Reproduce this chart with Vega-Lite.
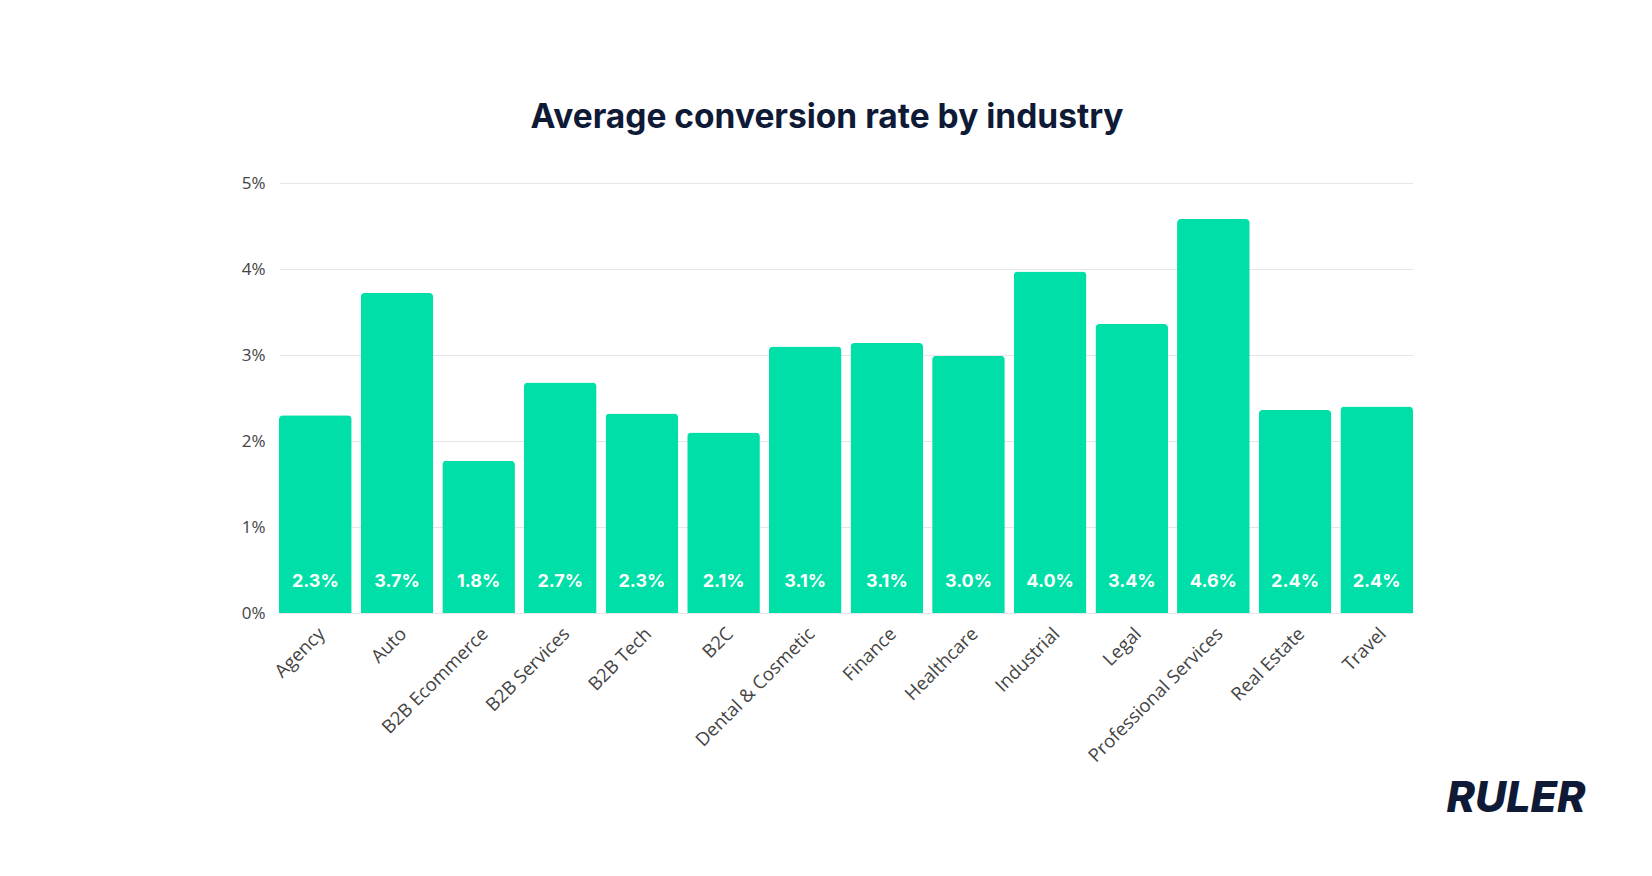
{
  "$schema": "https://vega.github.io/schema/vega-lite/v6.json",
  "width": 1134,
  "height": 430,
  "autosize": "none",
  "padding": {"left": 279, "top": 183, "right": 239, "bottom": 263},
  "background": "#ffffff",
  "title": {
    "text": "Average conversion rate by industry",
    "fontSize": 33.5,
    "font": "Inter",
    "fontWeight": 700,
    "color": "#0e1a36",
    "anchor": "middle",
    "dx": -19,
    "offset": 39
  },
  "data": {
    "values": [
      {"industry": "Agency", "rate": 0.0230},
      {"industry": "Auto", "rate": 0.0372},
      {"industry": "B2B Ecommerce", "rate": 0.0177},
      {"industry": "B2B Services", "rate": 0.0268},
      {"industry": "B2B Tech", "rate": 0.0232},
      {"industry": "B2C", "rate": 0.0210},
      {"industry": "Dental & Cosmetic", "rate": 0.0310},
      {"industry": "Finance", "rate": 0.0314},
      {"industry": "Healthcare", "rate": 0.0299},
      {"industry": "Industrial", "rate": 0.0397},
      {"industry": "Legal", "rate": 0.0336},
      {"industry": "Professional Services", "rate": 0.0458},
      {"industry": "Real Estate", "rate": 0.0236},
      {"industry": "Travel", "rate": 0.0240}
    ]
  },
  "encoding": {
    "x": {
      "field": "industry",
      "type": "nominal",
      "sort": null,
      "scale": {"paddingInner": 0.11, "paddingOuter": 0},
      "axis": {
        "title": "RULER",
        "titleFont": "Inter",
        "titleFontSize": 43,
        "titleFontWeight": 800,
        "titleFontStyle": "italic",
        "titleColor": "#0e1a36",
        "titleAnchor": "end",
        "titleAlign": "right",
        "titleBaseline": "alphabetic",
        "titleX": 1306,
        "titleY": 198,
        "labelAngle": -45,
        "labelFont": "Open Sans",
        "labelFontSize": 18.5,
        "labelColor": "#444444",
        "labelPadding": 11,
        "labelLimit": 400,
        "labelOverlap": false,
        "ticks": false,
        "domain": false,
        "grid": false
      }
    }
  },
  "layer": [
    {
      "mark": {"type": "bar", "color": "#00dfa7", "cornerRadiusTopLeft": 4, "cornerRadiusTopRight": 4},
      "encoding": {
        "y": {
          "field": "rate",
          "type": "quantitative",
          "scale": {"domain": [0, 0.05], "nice": false},
          "axis": {
            "title": null,
            "format": ".0%",
            "values": [0, 0.01, 0.02, 0.03, 0.04, 0.05],
            "labelOverlap": false,
            "labelFont": "Open Sans",
            "labelFontSize": 17,
            "labelColor": "#444444",
            "labelPadding": 14,
            "ticks": false,
            "domain": false,
            "gridColor": "#e4e6ea",
            "gridWidth": 1
          }
        }
      }
    },
    {
      "mark": {"type": "text", "color": "#ffffff", "font": "Inter", "fontWeight": 700, "fontSize": 18, "baseline": "middle", "dy": -31},
      "encoding": {
        "y": {"datum": 0},
        "text": {"field": "rate", "type": "quantitative", "format": ".1%"}
      }
    }
  ],
  "config": {
    "view": {"stroke": null}
  }
}
